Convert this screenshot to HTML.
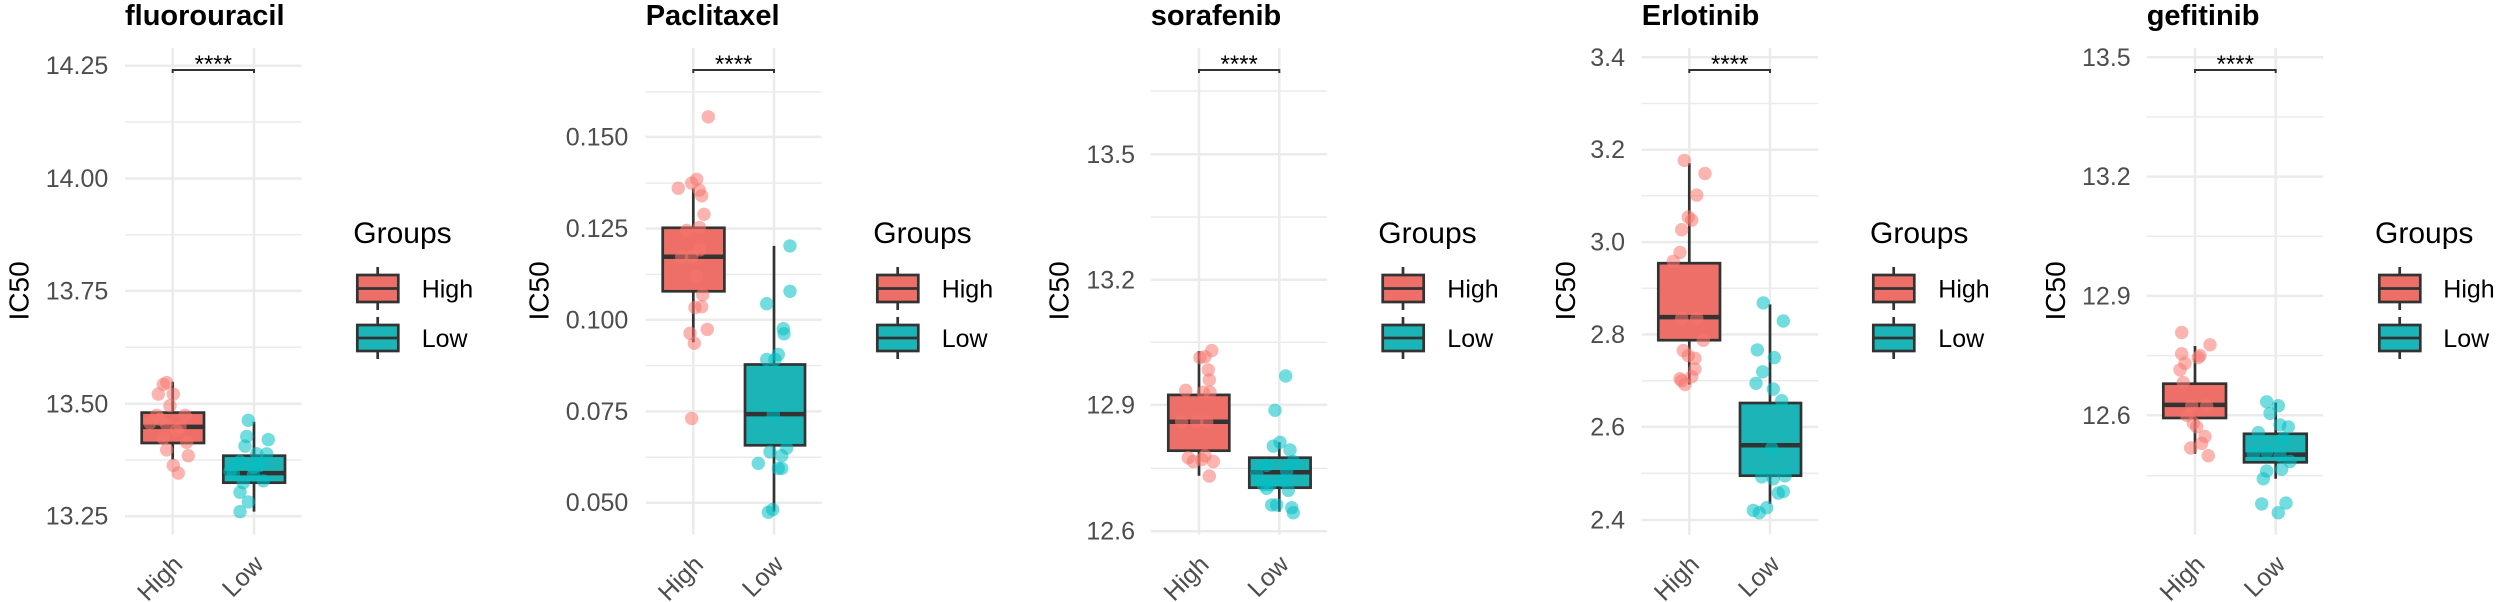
<!DOCTYPE html>
<html><head><meta charset="utf-8"><style>
html,body{margin:0;padding:0;background:#fff;}
svg{display:block;font-family:"Liberation Sans",Arial,sans-serif;}
</style></head><body>
<svg id="s" width="2500" height="602" viewBox="0 0 2500 602" xmlns="http://www.w3.org/2000/svg"></svg>
<script>
const P=[
{off:0,title:"fluorouracil",pl:375,pr:905,maj:[[172,"14.25"],[465,"14.00"],[757,"13.75"],[1050,"13.50"],[1342,"13.25"]],min:[318,611,903,1196],hx:518,lx:762,tr:325,ic:85,lg:1060,kl:1072,lab:1265,
hb:[425,612,1073,1152,1110,993,1195],lb:[670,855,1185,1255,1230,1097,1330],
hp:[[500,995],[490,1000],[475,1025],[520,1025],[510,1055],[470,1080],[555,1080],[500,1105],[540,1110],[490,1140],[560,1150],[500,1170],[565,1185],[520,1210],[535,1230],[450,1100],[530,1120],[480,1090]],
lp:[[745,1093],[740,1135],[805,1143],[735,1160],[770,1180],[800,1180],[720,1200],[760,1215],[700,1230],[790,1250],[730,1255],[720,1280],[745,1305],[720,1330],[760,1235],[690,1225],[780,1210]]},
{off:500,title:"Paclitaxel",pl:437,pr:965,maj:[[357,"0.150"],[595,"0.125"],[832,"0.100"],[1070,"0.075"],[1307,"0.050"]],min:[240,477,714,951,1189],hx:580,lx:822,tr:385,ic:145,lg:1120,kl:1132,lab:1325,
hb:[488,673,593,758,668,490,890],lb:[735,915,948,1158,1077,640,1330],
hp:[[625,305],[590,467],[575,477],[535,490],[598,495],[605,510],[612,558],[598,592],[545,668],[575,668],[608,767],[585,800],[605,798],[570,867],[622,857],[583,893],[575,1088],[560,600],[590,720],[600,650]],
lp:[[870,640],[870,758],[800,790],[850,855],[852,868],[835,922],[800,935],[825,935],[820,1077],[810,1175],[860,1165],[845,1185],[775,1205],[835,1218],[845,1218],[805,1332],[818,1325]]},
{off:1000,title:"sorafenib",pl:452,pr:982,maj:[[402,"13.5"],[728,"13.2"],[1053,"12.9"],[1381,"12.6"]],min:[238,565,890,1218],hx:597,lx:838,tr:405,ic:205,lg:1135,kl:1148,lab:1342,
hb:[505,688,1027,1172,1097,913,1237],lb:[748,932,1190,1268,1228,1150,1330],
hp:[[635,912],[600,930],[615,928],[625,962],[628,988],[557,1015],[610,1020],[630,1020],[545,1097],[590,1097],[620,1097],[565,1190],[580,1200],[605,1195],[640,1200],[615,1185],[628,1238]],
lp:[[857,978],[825,1067],[840,1150],[820,1160],[870,1170],[880,1200],[800,1210],[860,1225],[770,1230],[810,1260],[850,1250],[800,1270],[865,1275],[815,1313],[830,1313],[875,1320],[880,1333],[790,1260]]},
{off:1500,title:"Erlotinib",pl:425,pr:955,maj:[[150,"3.4"],[390,"3.2"],[630,"3.0"],[870,"2.8"],[1110,"2.6"],[1352,"2.4"]],min:[270,510,750,990,1231],hx:568,lx:810,tr:375,ic:225,lg:1110,kl:1120,lab:1315,
hb:[475,660,685,885,825,425,1000],lb:[720,903,1048,1237,1158,792,1310],
hp:[[553,418],[615,452],[590,508],[565,565],[575,573],[545,598],[540,657],[520,680],[545,828],[590,828],[610,885],[550,912],[565,925],[585,932],[585,960],[575,980],[545,990],[555,1000],[540,985]],
lp:[[790,788],[850,835],[772,910],[823,930],[788,967],[768,997],[820,1012],[845,1042],[815,1165],[785,1240],[820,1245],[855,1237],[835,1282],[850,1278],[760,1327],[778,1333],[800,1320]]},
{off:2000,title:"gefitinib",pl:440,pr:970,maj:[[150,"13.5"],[460,"13.2"],[770,"12.9"],[1080,"12.6"]],min:[305,615,925,1237],hx:585,lx:827,tr:392,ic:195,lg:1125,kl:1138,lab:1330,
hb:[490,678,998,1087,1053,900,1180],lb:[732,920,1128,1202,1182,1047,1245],
hp:[[545,865],[630,897],[545,920],[600,925],[595,930],[555,945],[540,962],[550,995],[575,1055],[620,1055],[580,1100],[590,1110],[615,1135],[605,1153],[572,1165],[625,1185],[560,1080]],
lp:[[800,1045],[835,1055],[810,1075],[840,1105],[865,1110],[775,1125],[850,1140],[800,1175],[840,1185],[870,1200],[800,1225],[845,1220],[790,1245],[785,1310],[858,1308],[835,1333],[760,1180]]}
];
const HF="#ED6F67",LF="#1BB5B8",HP="#F8766D",LP="#00BFC4",OL="#333333",GR="#EBEBEB";
const Y=z=>(0.385*z-0.5).toFixed(1);
let h="";
for(const p of P){
 const X=x=>(p.off+x/3).toFixed(1);
 const top=Y(125),bot=Y(1390);
 let g="";
 for(const y of p.min) g+=`<line x1="${X(p.pl)}" y1="${Y(y)}" x2="${X(p.pr)}" y2="${Y(y)}" stroke="${GR}" stroke-width="1.5"/>`;
 for(const m of p.maj) g+=`<line x1="${X(p.pl)}" y1="${Y(m[0])}" x2="${X(p.pr)}" y2="${Y(m[0])}" stroke="${GR}" stroke-width="2.5"/>`;
 for(const x of [p.hx,p.lx]) g+=`<line x1="${X(x)}" y1="48" x2="${X(x)}" y2="${bot}" stroke="${GR}" stroke-width="2.5"/>`;
 for(const m of p.maj) g+=`<text x="${X(p.tr)}" y="${(+Y(m[0])+8.5).toFixed(1)}" font-size="25" fill="#4D4D4D" text-anchor="end">${m[1]}</text>`;
 g+=`<text x="${X(p.pl)}" y="25" font-size="29" font-weight="bold" fill="#000">${p.title}</text>`;
 g+=`<text transform="translate(${X(p.ic)},${Y(757)}) rotate(-90)" font-size="28" text-anchor="middle" fill="#000">IC50</text>`;
 const box=(b,x,fill)=>{
  let s=`<line x1="${X(x)}" y1="${Y(b[5])}" x2="${X(x)}" y2="${Y(b[6])}" stroke="${OL}" stroke-width="2.7"/>`;
  s+=`<rect x="${X(b[0])}" y="${Y(b[2])}" width="${((b[1]-b[0])/3).toFixed(1)}" height="${(Y(b[3])-Y(b[2])).toFixed(1)}" fill="${fill}" stroke="${OL}" stroke-width="2.7"/>`;
  s+=`<line x1="${X(b[0])}" y1="${Y(b[4])}" x2="${X(b[1])}" y2="${Y(b[4])}" stroke="${OL}" stroke-width="4.5"/>`;
  return s;
 };
 g+=box(p.hb,p.hx,HF)+box(p.lb,p.lx,LF);
 for(const q of p.hp) g+=`<circle cx="${X(q[0])}" cy="${Y(q[1])}" r="6.7" fill="${HP}" fill-opacity="0.55"/>`;
 for(const q of p.lp) g+=`<circle cx="${X(q[0])}" cy="${Y(q[1])}" r="6.7" fill="${LP}" fill-opacity="0.55"/>`;
 g+=`<path d="M${X(p.hx)} 73 V70 H${X(p.lx)} V73" fill="none" stroke="${OL}" stroke-width="2"/>`;
 g+=`<text x="${X((p.hx+p.lx)/2)}" y="72" font-size="24" text-anchor="middle" fill="#000">****</text>`;
 g+=`<text transform="translate(${X(p.hx+34)},566) rotate(-45)" font-size="25" text-anchor="end" fill="#4D4D4D">High</text>`;
 g+=`<text transform="translate(${X(p.lx+33)},566) rotate(-45)" font-size="25" text-anchor="end" fill="#4D4D4D">Low</text>`;
 g+=`<text x="${X(p.lg)}" y="243" font-size="30" fill="#000">Groups</text>`;
 const kl=X(p.kl),kc=X(p.kl+61),kr=X(p.kl+123);
 for(const [t,b,fill,lab] of [[275,302,HF,"High"],[325,351,LF,"Low"]]){
  const c=(t+b)/2;
  g+=`<line x1="${kc}" y1="${t-8}" x2="${kc}" y2="${b+8}" stroke="${OL}" stroke-width="2.7"/>`;
  g+=`<rect x="${kl}" y="${t}" width="41" height="${b-t}" fill="${fill}" stroke="${OL}" stroke-width="2.7"/>`;
  g+=`<line x1="${kl}" y1="${c}" x2="${kr}" y2="${c}" stroke="${OL}" stroke-width="2.7"/>`;
  g+=`<text x="${X(p.lab)}" y="${c+9}" font-size="25" fill="#000">${lab}</text>`;
 }
 h+=g;
}
document.getElementById("s").innerHTML=h;
</script>
</body></html>
